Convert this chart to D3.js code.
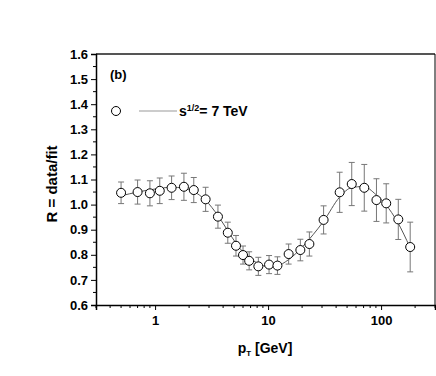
<!DOCTYPE html>
<html>
<head>
<meta charset="utf-8">
<script src="https://cdn.jsdelivr.net/npm/d3@7"></script>
<style>
  body { margin: 0; background: #fff; }
  text { font-family: "Liberation Sans", Arial, sans-serif; font-weight: bold; fill: #000; }
</style>
</head>
<body>
<div id="chart"></div>
<script>
// data
var ptX   = [0.5, 0.7, 0.9, 1.1, 1.4, 1.8, 2.2, 2.8, 3.6, 4.4, 5.2, 6.0, 6.8, 8.2, 10.2, 12.1, 15.2, 19.3, 23.2, 31, 43, 55, 71, 91, 111, 142, 181];
var ratio = [1.047, 1.05, 1.045, 1.055, 1.067, 1.071, 1.058, 1.021, 0.952, 0.888, 0.836, 0.799, 0.776, 0.754, 0.761, 0.757, 0.803, 0.819, 0.843, 0.939, 1.049, 1.082, 1.067, 1.018, 1.005, 0.941, 0.831];
var err   = [0.043, 0.048, 0.05, 0.051, 0.047, 0.054, 0.05, 0.048, 0.046, 0.042, 0.041, 0.036, 0.036, 0.036, 0.036, 0.035, 0.04, 0.043, 0.048, 0.056, 0.08, 0.086, 0.093, 0.085, 0.078, 0.08, 0.099];

var fitX = [0.5, 0.7, 1.0, 1.4, 1.8, 2.2, 2.8, 3.6, 4.4, 5.2, 6, 7, 8, 10, 12, 15, 20, 25, 31, 43, 55, 70, 90, 110, 140, 180];
var fitY = [1.035, 1.05, 1.062, 1.069, 1.066, 1.052, 1.017, 0.956, 0.896, 0.846, 0.811, 0.785, 0.767, 0.753, 0.756, 0.779, 0.83, 0.88, 0.934, 1.03, 1.068, 1.072, 1.04, 1.0, 0.93, 0.83];

var yTicks = [0.6, 0.7, 0.8, 0.9, 1.0, 1.1, 1.2, 1.3, 1.4, 1.5, 1.6];
var xTicks = [1, 10, 100];

var width = 436, height = 376;
var plotL = 96, plotR = 435, plotT = 54, plotB = 305;

var svg = d3.select("#chart").append("svg")
    .attr("width", width)
    .attr("height", height);

var x = d3.scaleLog().domain([0.3, 300]).range([plotL, plotR]);
var y = d3.scaleLinear().domain([0.6, 1.6]).range([plotB, plotT]);

// frame
svg.append("line").attr("x1", plotL).attr("x2", plotR).attr("y1", plotT).attr("y2", plotT)
    .attr("stroke", "#555").attr("stroke-width", 2);
svg.append("line").attr("x1", plotR).attr("x2", plotR).attr("y1", plotT).attr("y2", plotB)
    .attr("stroke", "#000").attr("stroke-width", 1);

// minor ticks
var xMinor = [];
[0.1, 1, 10, 100].forEach(function(dec) {
    for (var k = 2; k <= 9; k++) {
        var v = dec * k;
        if (v >= 0.3 && v <= 300) xMinor.push(v);
    }
});
var yMinor = d3.range(0.65, 1.6, 0.1);

var xAxis = svg.append("g").attr("transform", "translate(0," + plotB + ")");
xAxis.call(d3.axisBottom(x).tickValues(xTicks).tickFormat(d3.format("d")).tickSize(5).tickPadding(6));
xAxis.selectAll(".minor").data(xMinor).enter().append("line")
    .attr("x1", d => x(d)).attr("x2", d => x(d)).attr("y1", 0).attr("y2", 3)
    .attr("stroke", "#000");

var yAxis = svg.append("g").attr("transform", "translate(" + plotL + ",0)");
yAxis.call(d3.axisLeft(y).tickValues(yTicks).tickFormat(d3.format(".1f")).tickSize(5).tickPadding(3));
yAxis.selectAll(".minor").data(yMinor).enter().append("line")
    .attr("x1", 0).attr("x2", -3).attr("y1", d => y(d)).attr("y2", d => y(d))
    .attr("stroke", "#000");

svg.selectAll(".domain").attr("stroke-width", 1.5);
svg.selectAll(".tick text").style("font-size", "13px").style("font-family", "Liberation Sans, Arial, sans-serif").style("font-weight", "bold");

// axis titles
svg.append("text")
    .attr("transform", "translate(57," + 184 + ") rotate(-90)")
    .attr("text-anchor", "middle")
    .style("font-size", "15px")
    .text("R = data/fit");

var xt = svg.append("text")
    .attr("x", 265).attr("y", 353)
    .attr("text-anchor", "middle")
    .style("font-size", "14px");
xt.append("tspan").text("p");
xt.append("tspan").attr("dy", 3).style("font-size", "8px").text("T");
xt.append("tspan").attr("dy", -3).text(" [GeV]");

// fit curve
var line = d3.line()
    .x(function(d, i) { return x(fitX[i]); })
    .y(function(d) { return y(d); })
    .curve(d3.curveMonotoneX);

svg.append("path")
    .attr("d", line(fitY))
    .attr("fill", "none")
    .attr("stroke", "#555")
    .attr("stroke-width", 1);

// error bars
var eb = svg.append("g").attr("stroke", "#777").attr("stroke-width", 1);
ratio.forEach(function(v, i) {
    var cx = x(ptX[i]);
    eb.append("line").attr("x1", cx).attr("x2", cx).attr("y1", y(v + err[i])).attr("y2", y(v - err[i]));
    eb.append("line").attr("x1", cx - 3).attr("x2", cx + 3).attr("y1", y(v + err[i])).attr("y2", y(v + err[i]));
    eb.append("line").attr("x1", cx - 3).attr("x2", cx + 3).attr("y1", y(v - err[i])).attr("y2", y(v - err[i]));
});

// points
svg.append("g").selectAll("circle")
    .data(ratio).enter()
    .append("circle")
    .attr("cx", (d, i) => x(ptX[i]))
    .attr("cy", d => y(d))
    .attr("r", 4.5)
    .attr("fill", "#fff")
    .attr("stroke", "#000")
    .attr("stroke-width", 1);

// panel label and legend
svg.append("text").attr("x", 110).attr("y", 79).style("font-size", "13px").text("(b)");

svg.append("circle").attr("cx", 116).attr("cy", 111).attr("r", 4.5)
    .attr("fill", "#fff").attr("stroke", "#000");
svg.append("line").attr("x1", 139).attr("x2", 177).attr("y1", 111).attr("y2", 111)
    .attr("stroke", "#999").attr("stroke-width", 1);
var lg = svg.append("text").attr("x", 179).attr("y", 116).style("font-size", "14px");
lg.append("tspan").text("s");
lg.append("tspan").attr("dy", -5).style("font-size", "9px").text("1/2");
lg.append("tspan").attr("dy", 5).text("= 7 TeV");
</script>
</body>
</html>
